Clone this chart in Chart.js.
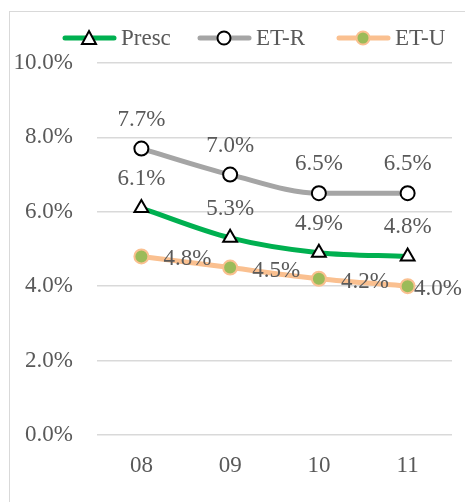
<!DOCTYPE html>
<html>
<head>
<meta charset="utf-8">
<script src="https://cdn.jsdelivr.net/npm/chart.js@4.4.1/dist/chart.umd.min.js"></script>
<style>
  html,body{margin:0;padding:0;background:#fff;}
  #frame{position:absolute;left:9px;top:11px;width:600px;height:600px;border:1px solid #d9d9d9;}
  #wrap{position:absolute;left:0;top:0;width:465px;height:502px;}
</style>
</head>
<body>
<div id="frame"></div>
<div id="wrap"><canvas id="chart" width="465" height="502"></canvas></div>
<script>
const years = ['08','09','10','11'];
const presc = [6.1, 5.3, 4.9, 4.8];
const etR = [7.7, 7.0, 6.5, 6.5];
const etU = [4.8, 4.5, 4.2, 4.0];
const yTicks = [0, 2, 4, 6, 8, 10];

const textColor = '#595959';
const fontFamily = '"Liberation Serif", "DejaVu Serif", serif';
const font = '23px ' + fontFamily;

function tri(g,x,y){
  g.fillStyle='#fff'; g.strokeStyle='#000'; g.lineWidth=2;
  g.beginPath(); g.moveTo(x,y-7); g.lineTo(x+7,y+6); g.lineTo(x-7,y+6); g.closePath(); g.fill(); g.stroke();
}
function ring(g,x,y){
  g.fillStyle='#fff'; g.strokeStyle='#000'; g.lineWidth=2;
  g.beginPath(); g.arc(x,y,6.5,0,Math.PI*2); g.fill(); g.stroke();
}
function dot(g,x,y){
  g.fillStyle='#9bbb59'; g.strokeStyle='#fac090'; g.lineWidth=2;
  g.beginPath(); g.arc(x,y,6.5,0,Math.PI*2); g.fill(); g.stroke();
}
const markers = [tri, ring, dot];
const legendX = [63, 198, 337]; // left end of each swatch line
const legendY = 38;

const legendPlugin = {
  id: 'lineLegend',
  afterDraw(chart){
    const g = chart.ctx;
    g.save();
    chart.data.datasets.forEach((ds, i) => {
      const x0 = legendX[i];
      g.strokeStyle = ds.borderColor; g.lineWidth = 5; g.lineCap = 'round';
      g.beginPath(); g.moveTo(x0+2, legendY); g.lineTo(x0+51, legendY); g.stroke();
      markers[i](g, x0+26, legendY);
      g.font = font; g.fillStyle = textColor;
      g.textAlign = 'left'; g.textBaseline = 'middle';
      g.fillText(ds.label, x0+58, legendY+1);
    });
    g.restore();
  }
};

const labelPlugin = {
  id: 'pointLabels',
  afterDatasetsDraw(chart){
    const g = chart.ctx;
    g.save();
    g.font = font;
    g.fillStyle = textColor;
    chart.data.datasets.forEach((ds, i) => {
      const meta = chart.getDatasetMeta(i);
      meta.data.forEach((pt, j) => {
        const txt = ds.data[j].toFixed(1) + '%';
        if (ds.labelPos === 'right'){
          const w = g.measureText(txt).width;
          const x = Math.min(pt.x + 22, chart.width - 3 - w);
          g.textAlign = 'left'; g.textBaseline = 'middle';
          g.fillText(txt, x, pt.y + 3);
        } else {
          g.textAlign = 'center'; g.textBaseline = 'middle';
          g.fillText(txt, pt.x, pt.y - 29);
        }
      });
    });
    g.restore();
  }
};

new Chart(document.getElementById('chart'), {
  type: 'line',
  data: {
    labels: years,
    datasets: [
      { label:'Presc', data:presc, borderColor:'#00b050', borderWidth:5, cubicInterpolationMode:'monotone',
        pointStyle:'triangle', pointRadius:8, pointBackgroundColor:'#fff', pointBorderColor:'#000', pointBorderWidth:2, labelPos:'top' },
      { label:'ET-R', data:etR, borderColor:'#a5a5a5', borderWidth:5, cubicInterpolationMode:'monotone',
        pointStyle:'circle', pointRadius:7, pointBackgroundColor:'#fff', pointBorderColor:'#000', pointBorderWidth:2, labelPos:'top' },
      { label:'ET-U', data:etU, borderColor:'#fac090', borderWidth:5, cubicInterpolationMode:'monotone',
        pointStyle:'circle', pointRadius:7, pointBackgroundColor:'#9bbb59', pointBorderColor:'#fac090', pointBorderWidth:2, labelPos:'right' }
    ]
  },
  options: {
    responsive:false,
    animation:false,
    layout:{ padding:{ left:0, right:13, top:63, bottom:0 } },
    plugins:{
      tooltip:{enabled:false},
      legend:{ display:false }
    },
    scales:{
      x:{
        offset:true,
        grid:{ display:false, drawTicks:false },
        border:{ display:false },
        ticks:{ color:textColor, font:{ family:fontFamily, size:23 }, padding:17 },
        afterFit(s){ s.height = 67; }
      },
      y:{
        min:0, max:10,
        afterBuildTicks(s){ s.ticks = yTicks.map(v=>({value:v})); },
        grid:{ color:'#d9d9d9', lineWidth:1.5, drawTicks:false },
        border:{ display:false },
        ticks:{ color:textColor, font:{ family:fontFamily, size:23 }, padding:24,
          callback:v=>v.toFixed(1)+'%' },
        afterFit(s){ s.width = 97; }
      }
    }
  },
  plugins:[labelPlugin, legendPlugin]
});
</script>
</body>
</html>
